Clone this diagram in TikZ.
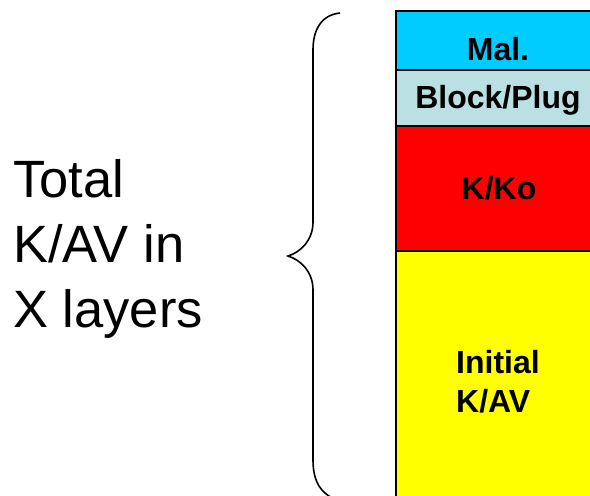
\documentclass[tikz,border=0pt]{standalone}
\usepackage{fontspec}
\setmainfont{Liberation Sans}
\begin{document}
\begin{tikzpicture}[x=1pt,y=-1pt,
  layer/.style={draw=black,line width=2pt},
  layerlabel/.style={font=\fontsize{32}{39}\selectfont\bfseries,inner sep=0pt,anchor=base},
  bigtext/.style={font=\fontsize{52.5}{65}\selectfont,inner sep=0pt,anchor=base west,align=left}]
\useasboundingbox (0,0) rectangle (590,496);
\begin{scope}
\clip (0,0) rectangle (590,496);
% stacked layers, bottom to top
\filldraw[layer,fill={rgb,255:red,255;green,255;blue,0}] (396,251) rectangle (604,510);
\filldraw[layer,fill={rgb,255:red,255;green,0;blue,0}] (396,126) rectangle (604,251);
\filldraw[layer,fill={rgb,255:red,187;green,224;blue,227}] (396,70) rectangle (604,126);
\filldraw[layer,fill={rgb,255:red,0;green,204;blue,255}] (396,11) rectangle (604,70);
% curly brace
\draw[line width=1.6pt] (340,13) .. controls (321,15) and (313,30) .. (313,50)
  -- (313,222) .. controls (313,240) and (301,252) .. (288,256)
  .. controls (301,260) and (313,272) .. (313,290)
  -- (313,460) .. controls (313,482) and (321,494) .. (337,500);
\end{scope}
\node[layerlabel] (mal) at (498,60) {Mal.};
\node[layerlabel] (plug) at (498,108) {Block/Plug};
\node[layerlabel] (kko) at (499,199) {K/Ko};
% multi-line nodes: the base anchor sits on the last line
\node[layerlabel,anchor=base west,align=left] (init) at (456,412) {Initial\\K/AV};
\node[bigtext] (total) at (13,327) {Total\\K/AV in\\X layers};
\end{tikzpicture}
\end{document}
